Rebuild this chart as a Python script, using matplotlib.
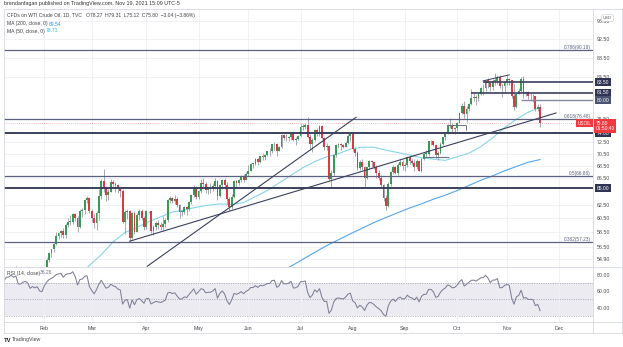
import numpy as np
import pandas as pd
import matplotlib
matplotlib.use('Agg')
import matplotlib.pyplot as plt
from matplotlib.lines import Line2D
from matplotlib.ticker import NullLocator

plt.rcParams['font.family'] = ['Liberation Sans', 'DejaVu Sans']

# ---- data: WTI daily candles, Jan 4 - Nov 19 2021 (one row = one week, Mon..Fri)
first_open = 48.4
closes = [
    47.6, 49.9, 50.6, 50.8, 52.2,
    52.3, 53.2, 52.9, 53.6, 52.4,
    52.4, 53.0, 53.3, 53.1, 52.3,
    52.8, 52.6, 52.9, 52.3, 52.2,
    53.6, 54.8, 55.7, 56.2, 56.9,
    58.0, 58.4, 58.7, 58.2, 59.5,
    60.0, 60.0, 61.1, 60.5, 59.2,
    61.5, 61.7, 63.2, 63.5, 61.5,
    60.6, 59.8, 61.3, 63.8, 66.1,
    65.1, 64.0, 64.4, 66.0, 65.6,
    65.4, 64.8, 64.6, 60.0, 61.4,
    61.6, 57.8, 61.2, 58.6, 61.0,
    61.6, 60.6, 59.2, 61.5, 61.5,
    58.7, 59.3, 59.8, 59.6, 59.3,
    59.7, 60.2, 63.2, 63.5, 63.1,
    63.4, 62.4, 61.4, 61.4, 62.1,
    61.9, 62.9, 63.9, 65.0, 63.6,
    64.5, 65.7, 65.6, 64.7, 64.9,
    64.9, 65.3, 66.1, 63.8, 65.4,
    66.3, 65.5, 63.4, 62.1, 63.6,
    66.1, 65.8, 66.2, 66.9, 66.3,
    67.2, 67.7, 68.8, 68.8, 69.6,
    69.2, 70.1, 70.0, 70.3, 70.9,
    70.9, 72.1, 72.2, 71.0, 71.6,
    73.7, 73.1, 73.1, 73.3, 74.1,
    72.9, 73.0, 73.5, 75.2, 75.2,
    75.5, 73.4, 72.2, 72.9, 74.6,
    74.1, 75.3, 73.1, 71.7, 71.8,
    66.4, 67.4, 70.3, 71.9, 72.1,
    71.9, 71.7, 72.4, 73.6, 74.0,
    71.3, 70.6, 68.2, 69.1, 68.3,
    66.5, 68.3, 69.3, 69.1, 68.4,
    67.3, 66.6, 65.5, 63.5, 62.3,
    65.6, 67.5, 68.4, 67.4, 68.7,
    69.2, 68.5, 68.6, 70.0, 69.3,
    69.0, 68.4, 69.3, 67.7, 69.7,
    70.5, 70.5, 72.6, 72.6, 72.0,
    70.3, 70.6, 72.2, 73.3, 74.0,
    75.5, 75.3, 74.8, 75.0, 75.9,
    77.6, 78.9, 77.4, 78.3, 79.4,
    80.5, 80.6, 80.4, 81.3, 82.3,
    82.4, 83.9, 83.4, 82.5, 83.8,
    83.8, 84.6, 82.7, 82.8, 83.6,
    84.1, 83.9, 80.9, 78.8, 81.3,
    81.9, 84.2, 81.3, 81.6, 80.8,
    80.9, 80.8, 78.4, 78.84, 75.8,
]
highs = [
    49.8, 50.2, 50.9, 51.3, 52.7,
    52.7, 53.3, 53.9, 54.0, 53.8,
    52.8, 53.3, 53.7, 53.6, 53.1,
    53.2, 53.2, 53.2, 53.3, 53.2,
    53.9, 55.0, 55.9, 56.3, 57.0,
    58.6, 58.6, 58.9, 59.1, 59.8,
    60.6, 60.9, 61.3, 61.2, 60.8,
    61.9, 62.0, 63.4, 63.8, 63.7,
    61.9, 61.1, 61.6, 64.9, 66.4,
    68.0, 65.3, 64.8, 66.4, 66.3,
    66.0, 65.6, 65.1, 64.9, 61.7,
    61.9, 61.7, 61.4, 61.5, 61.3,
    61.8, 61.9, 60.8, 61.7, 61.6,
    61.6, 59.6, 60.1, 60.2, 60.0,
    60.8, 60.5, 63.3, 63.8, 63.6,
    64.0, 63.6, 62.6, 61.7, 62.3,
    62.3, 63.1, 64.1, 65.4, 65.3,
    64.7, 66.4, 66.5, 66.0, 65.2,
    65.7, 65.8, 66.5, 66.3, 65.6,
    66.4, 66.5, 65.9, 63.7, 64.1,
    66.3, 66.3, 66.4, 67.0, 67.2,
    67.5, 68.6, 68.9, 69.0, 69.8,
    69.8, 70.2, 70.6, 70.5, 71.0,
    71.5, 72.2, 72.5, 72.4, 71.8,
    73.9, 73.9, 73.9, 73.6, 74.2,
    74.4, 73.4, 73.7, 75.7, 75.6,
    75.9, 77.0, 73.8, 73.1, 74.7,
    74.9, 75.4, 75.5, 73.4, 72.3,
    72.0, 67.9, 70.4, 72.2, 72.3,
    72.4, 72.1, 72.6, 73.9, 74.1,
    74.2, 71.6, 71.0, 69.4, 69.7,
    68.5, 68.4, 69.5, 69.4, 69.2,
    68.6, 67.8, 67.1, 65.6, 63.9,
    65.9, 67.6, 68.6, 68.5, 68.9,
    69.7, 69.5, 69.0, 70.1, 70.1,
    69.6, 69.6, 69.6, 69.5, 69.8,
    70.8, 71.2, 72.7, 72.8, 72.7,
    72.2, 71.0, 72.5, 73.4, 74.2,
    75.6, 76.7, 75.8, 75.2, 76.0,
    77.9, 79.5, 79.8, 78.9, 79.5,
    82.1, 81.5, 81.1, 81.5, 82.6,
    83.2, 84.0, 84.3, 83.7, 84.1,
    85.4, 85.0, 84.9, 83.1, 83.7,
    84.9, 84.4, 84.0, 83.2, 81.4,
    82.4, 84.5, 84.8, 81.9, 81.8,
    81.6, 81.2, 80.9, 79.4, 79.31,
]
lows = [
    47.2, 47.3, 49.5, 50.3, 50.6,
    51.3, 51.9, 52.4, 52.5, 51.9,
    51.9, 52.0, 52.6, 52.4, 51.5,
    51.8, 52.1, 52.2, 51.9, 51.8,
    52.1, 53.3, 54.6, 55.2, 55.8,
    56.8, 57.6, 57.9, 57.7, 57.7,
    59.3, 59.5, 59.7, 60.1, 58.6,
    59.1, 60.7, 61.1, 62.7, 61.2,
    59.9, 59.1, 58.8, 60.3, 63.4,
    64.4, 63.0, 63.2, 64.4, 65.1,
    64.4, 64.3, 63.6, 59.8, 58.3,
    60.4, 57.3, 57.6, 58.3, 58.5,
    60.3, 60.3, 58.9, 59.0, 61.2,
    58.4, 58.1, 58.9, 59.0, 58.9,
    58.8, 59.3, 60.0, 62.8, 62.8,
    62.6, 62.2, 60.6, 60.8, 61.1,
    60.9, 61.5, 62.6, 63.7, 63.4,
    63.3, 64.3, 65.2, 64.2, 64.1,
    64.3, 64.5, 64.9, 63.2, 63.6,
    64.8, 64.8, 62.6, 61.6, 61.8,
    63.5, 65.1, 65.5, 66.0, 66.0,
    66.2, 66.8, 67.6, 68.2, 68.7,
    68.6, 69.0, 69.5, 69.4, 70.2,
    70.2, 70.7, 71.1, 70.1, 70.9,
    71.4, 72.9, 72.6, 72.7, 72.9,
    72.7, 72.0, 72.8, 73.3, 74.6,
    74.8, 73.1, 71.1, 70.8, 72.6,
    73.5, 73.6, 73.0, 71.2, 71.2,
    66.2, 65.0, 66.8, 70.0, 71.4,
    71.1, 71.5, 71.6, 72.2, 72.7,
    70.9, 70.1, 67.9, 67.9, 67.9,
    65.2, 66.4, 68.0, 68.4, 68.0,
    66.5, 66.2, 65.1, 63.1, 61.7,
    62.2, 65.3, 67.2, 67.2, 67.1,
    68.5, 67.9, 67.7, 68.3, 68.8,
    68.6, 67.6, 68.0, 67.6, 67.5,
    69.4, 70.0, 70.2, 71.9, 71.8,
    69.8, 69.5, 70.4, 72.0, 72.8,
    73.8, 74.9, 74.2, 73.9, 74.4,
    75.8, 77.5, 76.7, 76.1, 78.1,
    79.2, 79.8, 79.2, 79.9, 81.0,
    81.0, 81.9, 82.3, 81.8, 82.0,
    83.0, 83.1, 82.3, 80.6, 81.6,
    82.9, 82.9, 80.5, 78.2, 78.6,
    81.2, 81.6, 80.4, 80.8, 80.2,
    79.9, 79.7, 78.0, 78.0, 75.12,
]
# Nov-Dec 2020 closes, only used to warm up the RSI
warmup_closes = [41.4, 41.8, 41.7, 42.4, 43.1, 44.9, 45.7, 45.5, 45.3, 44.6,
                 45.3, 45.6, 46.3, 45.8, 45.6, 45.5, 45.5, 46.8, 46.6, 47.0,
                 47.6, 47.8, 48.4, 49.1, 47.7, 47.0, 48.1, 48.2, 47.6, 48.0,
                 48.4, 48.5]

# moving averages read at each Friday (week number 1 = Jan 8)
ma50_first_week = 7
ma50 = [52.6, 54.1, 55.5, 57.2, 58.5, 59.2, 60.0, 60.7, 61.4, 61.7, 62.1, 62.4,
        62.6, 62.5, 62.8, 63.7, 64.6, 65.8, 67.0, 68.2, 69.2, 70.0, 70.5, 71.3,
        71.6, 71.6, 71.1, 70.7, 70.3, 69.8, 69.6, 69.4, 70.0, 70.6, 71.7, 73.2,
        75.0, 76.5, 77.8, 78.71]
ma200_first_week = 22
ma200 = [51.8, 52.5, 53.3, 54.0, 54.9, 55.8, 56.7, 57.5, 58.3, 59.1, 59.9, 60.6,
         61.3, 62.0, 62.6, 63.3, 63.9, 64.6, 65.4, 66.2, 66.9, 67.7, 68.4, 69.1,
         69.54]

fib_levels = [90.18, 76.48, 66.86, 57.23]
fib_names = ['0.786(90.18)', '0.618(76.48)', '0.5(66.86)', '0.382(57.23)']
key_levels = [74.00, 65.00]
price_ticks = [96.5, 92.5, 88.5, 84.5, 76.5, 72.5, 70.5, 68.5, 66.5,
               62.5, 60.5, 58.5, 56.5, 54.9]
last_close = 75.80

# ---- derived series
c = np.array(closes)
o = np.array([first_open] + closes[:-1])
h = np.array(highs)
l = np.array(lows)
x = np.arange(len(c))
days = pd.bdate_range('2021-01-04', '2021-12-31')
month_pos = [i for i in range(1, len(days)) if days[i].month != days[i - 1].month]
month_lab = [days[i].strftime('%b') for i in month_pos]

s = pd.Series(warmup_closes + closes)
d = s.diff()
gain = d.clip(lower=0).ewm(alpha=1 / 14, adjust=False).mean()
loss = (-d.clip(upper=0)).ewm(alpha=1 / 14, adjust=False).mean()
rsi = (100 - 100 / (1 + gain / loss)).values[len(warmup_closes):]

x50 = np.array([5 * (ma50_first_week + k) - 1 for k in range(len(ma50))])
x200 = np.array([5 * (ma200_first_week + k) - 1 for k in range(len(ma200))])

# ---- figure
W, H = 623, 347
fig = plt.figure(figsize=(W / 100, H / 100), dpi=100)
fx = lambda px: px / W
fy = lambda py: 1 - py / H

ax = fig.add_axes([fx(4), fy(267), fx(593) - fx(4), fy(9) - fy(267)])
ax2 = fig.add_axes([fx(4), fy(322), fx(593) - fx(4), fy(267) - fy(322)], sharex=ax)

grid_c = '#eef0f5'
txt_c = '#4a4a4a'
navy = '#2f3452'
up_c, dn_c, wick_c = '#389a55', '#d63c44', '#8f929c'

ax.set_yscale('log')
ax.set_ylim(53.9, 99.36)
ax.set_xlim(3.0, 251.3)

# candles
ax.vlines(x, l, h, color=wick_c, lw=0.55, zorder=3)
up = c >= o
body = np.maximum(np.abs(c - o), 0.1)
ax.bar(x[up], body[up], bottom=o[up], width=0.78, color=up_c, lw=0, zorder=4)
ax.bar(x[~up], body[~up], bottom=c[~up], width=0.78, color=dn_c, lw=0, zorder=4)

# moving averages
ax.plot(x50, ma50, color='#86d4ea', lw=0.8, zorder=2)
ax.plot(x200, ma200, color='#55a7ea', lw=0.8, zorder=2)

# horizontal levels
for lv, nm in zip(fib_levels, fib_names):
    ax.axhline(lv, color='#5c6180', lw=0.9, zorder=5)
    ax.text(250.5, lv, nm, ha='right', va='bottom', fontsize=3.4, color='#5c6180', zorder=6)
for lv in key_levels:
    ax.axhline(lv, color='#3b405c', lw=1.4, zorder=5)
ax.hlines(83.50, 205, 251.3, color='#3b405c', lw=1.2, zorder=5)
ax.hlines(81.50, 200, 251.3, color='#3b405c', lw=1.2, zorder=5)
ax.hlines(80.00, 221, 251.3, color='#858aa0', lw=1.0, zorder=5)
ax.axhline(last_close, color='#f4a3a8', lw=0.6, ls=(0, (1, 1.5)), zorder=2)

# trendlines
ax.plot([56, 235.7], [57.3, 77.65], color='#3b405c', lw=0.8, zorder=5)
ax.plot([63.4, 151.4], [54.0, 76.86], color='#3b405c', lw=0.8, zorder=5)
ax.plot([205, 216], [83.8, 85.0], color='#3b405c', lw=0.7, zorder=5)
ax.hlines(70.0, 180, 190.6, color='#6a6f88', lw=0.8, zorder=5)
ax.hlines(75.4, 189.8, 197.8, color='#6a6f88', lw=0.7, zorder=5)
ax.vlines(197.8, 74.6, 75.4, color='#6a6f88', lw=0.7, zorder=5)

# axes cosmetics (price pane)
ax.yaxis.tick_right()
ax.yaxis.set_minor_locator(NullLocator())
ax.set_yticks(price_ticks)
ax.set_yticklabels(['%.2f' % t for t in price_ticks])
ax.set_xticks(month_pos)
ax.tick_params(axis='y', length=0, pad=3, labelsize=3.8, labelcolor=txt_c)
ax.tick_params(axis='x', length=0, labelbottom=False)
ax.grid(True, color=grid_c, lw=0.6, zorder=0)
for sp in ax.spines.values():
    sp.set_visible(False)

# label boxes on the price scale
ytr = ax.get_yaxis_transform()
for val, fc in [(83.50, navy), (81.50, navy), (80.00, '#4b5170'), (74.00, navy), (65.00, navy)]:
    ax.text(1.006, val, '%.2f' % val, transform=ytr, ha='left', va='center', fontsize=3.6,
            color='white', zorder=10, clip_on=False,
            bbox=dict(boxstyle='square,pad=0.3', fc=fc, ec='none'))
ax.annotate('75.80\n01:50:40', xy=(1.004, last_close), xycoords=ytr, xytext=(0, 1.6),
            textcoords='offset points', ha='left', va='top', fontsize=3.5, color='white',
            linespacing=1.05, zorder=11, annotation_clip=False,
            bbox=dict(boxstyle='square,pad=0.3', fc='#f0393f', ec='none'))
ax.text(0.998, last_close, 'USOIL', transform=ytr, ha='right', va='center', fontsize=3.3,
        color='white', zorder=11, clip_on=False,
        bbox=dict(boxstyle='square,pad=0.3', fc='#f0393f', ec='none'))

# ---- RSI pane
ax2.set_ylim(22.4, 89.2)
ax2.axhspan(30, 70, color='#ebebf1', zorder=0, lw=0)
for lv in [70, 50, 30]:
    ax2.axhline(lv, color='#a0a0ad', lw=0.6, ls=(0, (1.2, 1.6)), zorder=1)
ax2.plot(x, rsi, color='#7f7f96', lw=0.75, zorder=3)
ax2.yaxis.tick_right()
ax2.set_yticks([80, 60, 40])
ax2.set_yticklabels(['80.00', '60.00', '40.00'])
ax2.set_xticks(month_pos)
ax2.set_xticklabels(month_lab)
ax2.tick_params(axis='y', length=0, pad=3, labelsize=3.8, labelcolor=txt_c)
ax2.tick_params(axis='x', length=0, pad=3, labelsize=3.8, labelcolor=txt_c)
ax2.grid(True, axis='x', color=grid_c, lw=0.6, zorder=0)
for sp in ax2.spines.values():
    sp.set_visible(False)

# ---- frame lines
fc_ = '#d5d8df'
for (x0, y0, x1, y1) in [(4, 9, 622, 9), (4, 267, 622, 267), (4, 322, 622, 322),
                         (4, 333, 622, 333), (4, 9, 4, 333), (593, 9, 593, 333),
                         (622, 9, 622, 333)]:
    fig.add_artist(Line2D([fx(x0), fx(x1)], [fy(y0), fy(y1)], color=fc_, lw=0.6))

# ---- texts
fig.text(fx(4), fy(4), 'brendanfagan published on TradingView.com, Nov 19, 2021 15:09 UTC-5',
         fontsize=3.9, color='#333333', va='center')
fig.text(fx(7), fy(15), 'CFDs on WTI Crude Oil, 1D, TVC   O78.27  H79.31  L75.12  C75.80  \u22123.04 (\u22123.86%)',
         fontsize=3.6, color='#444444', va='center')
fig.text(fx(7), fy(24), 'MA (200, close, 0)', fontsize=3.6, color='#444444', va='center')
fig.text(fx(49), fy(24), '69.54', fontsize=3.6, color='#2196f3', va='center')
fig.text(fx(7), fy(31), 'MA (50, close, 0)', fontsize=3.6, color='#444444', va='center')
fig.text(fx(46), fy(31), '78.71', fontsize=3.6, color='#26b5d6', va='center')
fig.text(fx(7), fy(273), 'RSI (14, close)', fontsize=3.6, color='#444444', va='center')
fig.text(fx(40), fy(273), '36.26', fontsize=3.6, color='#6f6f88', va='center')
fig.text(fx(603), fy(18), 'USD', fontsize=3.0, color='#555555', va='center',
         bbox=dict(boxstyle='round,pad=0.3', fc='white', ec='#c8cbd3', lw=0.4))
fig.text(fx(4), fy(340), 'TV', fontsize=4.2, color='#222222', va='center', weight='bold')
fig.text(fx(12), fy(340), 'TradingView', fontsize=3.8, color='#444444', va='center')

fig.savefig('out.png', dpi=100)
